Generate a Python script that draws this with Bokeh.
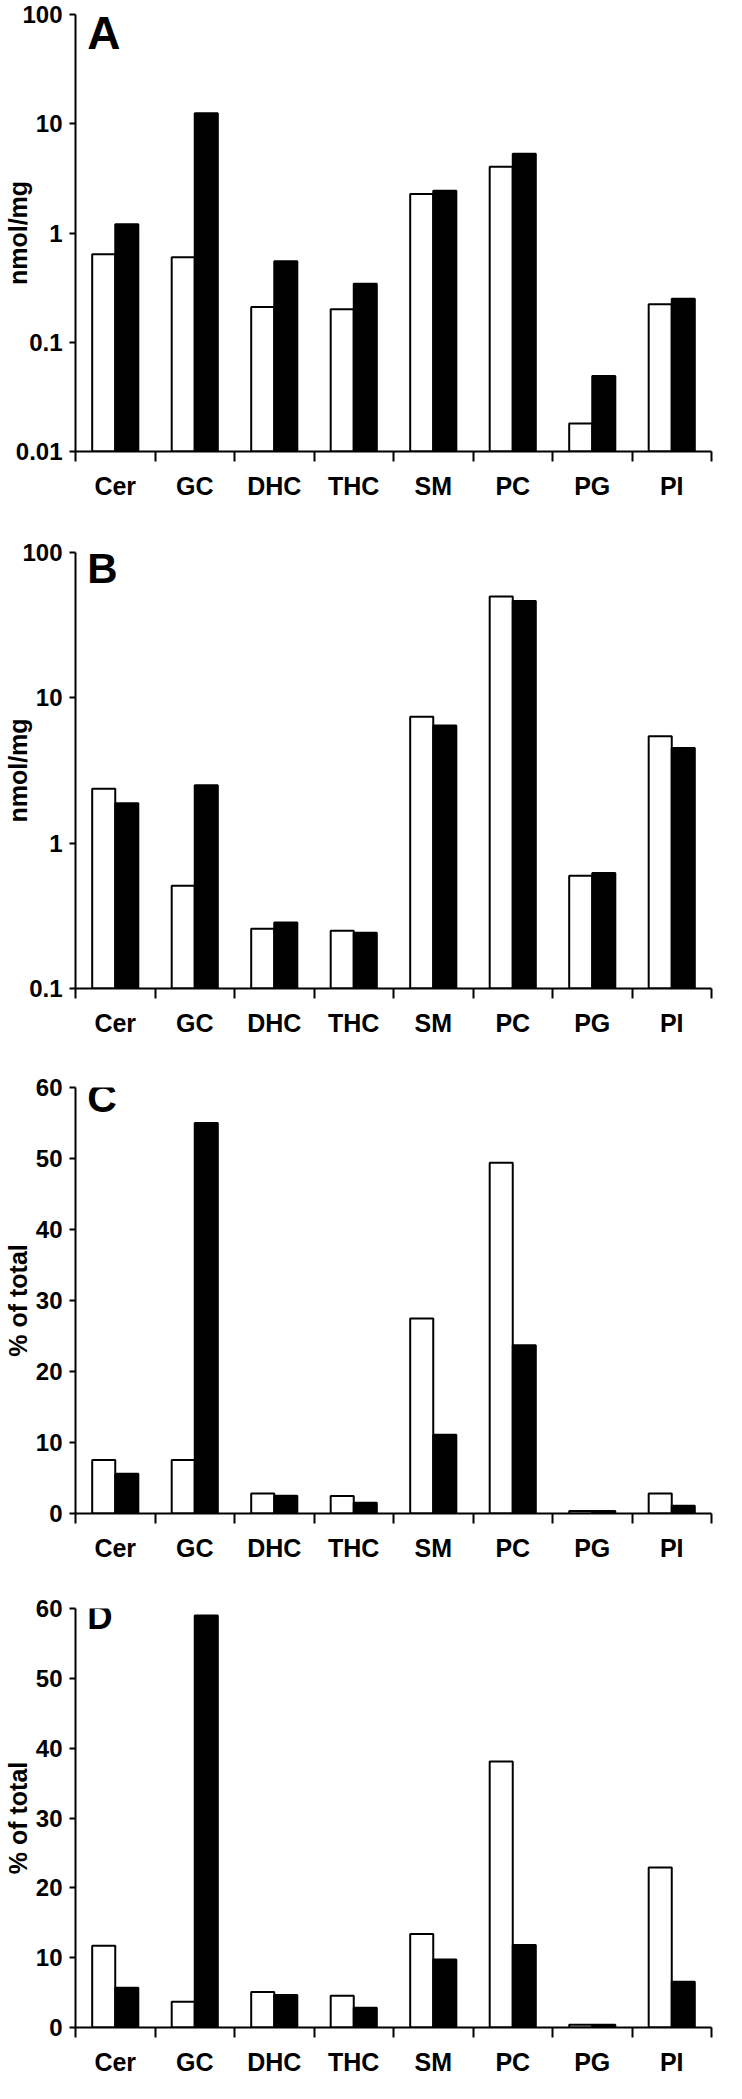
from bokeh.plotting import figure
from bokeh.models import Range1d, FixedTicker, Label, ColumnDataSource
from bokeh.transform import dodge
from bokeh.layouts import column
from bokeh.embed import file_html
from bokeh.resources import INLINE

categories = ["Cer", "GC", "DHC", "THC", "SM", "PC", "PG", "PI"]

a_white = [0.64, 0.60, 0.21, 0.20, 2.27, 4.04, 0.018, 0.223]
a_black = [1.2, 12.5, 0.55, 0.344, 2.43, 5.3, 0.049, 0.25]
b_white = [2.37, 0.51, 0.258, 0.25, 7.4, 49.9, 0.596, 5.45]
b_black = [1.88, 2.5, 0.285, 0.242, 6.44, 46.3, 0.624, 4.51]
c_white = [7.55, 7.55, 2.83, 2.45, 27.45, 49.4, 0.35, 2.83]
c_black = [5.6, 55.0, 2.5, 1.5, 11.1, 23.7, 0.35, 1.1]
d_white = [11.7, 3.7, 5.07, 4.54, 13.4, 38.1, 0.4, 22.9]
d_black = [5.7, 59.0, 4.64, 2.82, 9.75, 11.8, 0.4, 6.55]

log_ticks_a = [0.01, 0.1, 1, 10, 100]
log_ticks_b = [0.1, 1, 10, 100]
lin_ticks = [0, 10, 20, 30, 40, 50, 60]

FONT = "Liberation Sans"


def make_panel(white, black, letter, ylabel, log, yticks, ymin, ymax,
               height, top, bottom, frame_w, letter_size, letter_y,
               label_standoff):
    n = len(categories)
    pos = [i + 0.5 for i in range(n)]
    src = ColumnDataSource(dict(x=pos, white=white, black=black))
    p = figure(width=726, height=height,
               x_range=Range1d(0, n), y_range=Range1d(ymin, ymax),
               y_axis_type="log" if log else "linear",
               output_backend="svg", toolbar_location=None,
               min_border_left=68, min_border_right=726 - 68 - frame_w,
               min_border_top=top, min_border_bottom=bottom)
    p.outline_line_color = None
    p.grid.visible = False
    p.background_fill_color = "white"
    p.border_fill_color = "white"

    base = ymin
    p.vbar(x=dodge("x", -0.145, range=p.x_range), width=0.29, top="white",
           bottom=base, source=src, fill_color="white", line_color="black",
           line_width=2)
    p.vbar(x=dodge("x", 0.145, range=p.x_range), width=0.29, top="black",
           bottom=base, source=src, fill_color="black", line_color="black",
           line_width=2)

    # x axis
    xa = p.xaxis[0]
    xa.ticker = FixedTicker(ticks=pos, minor_ticks=list(range(n + 1)))
    xa.major_label_overrides = {pos[i]: categories[i] for i in range(n)}
    xa.major_tick_line_color = None
    xa.major_tick_out = 10
    xa.major_tick_in = 0
    xa.minor_tick_out = 10
    xa.minor_tick_in = 0
    xa.minor_tick_line_width = 2
    xa.minor_tick_line_color = "black"
    xa.axis_line_width = 2
    xa.axis_line_color = "black"
    xa.major_label_standoff = 10
    xa.major_label_text_font = FONT
    xa.major_label_text_font_style = "bold"
    xa.major_label_text_font_size = "25px"
    xa.major_label_text_color = "black"

    # y axis
    ya = p.yaxis[0]
    ya.ticker = FixedTicker(ticks=yticks, minor_ticks=[])
    ya.major_label_overrides = {t: str(t) for t in yticks}
    ya.major_tick_out = 6
    ya.major_tick_in = 0
    ya.major_tick_line_width = 2
    ya.major_tick_line_color = "black"
    ya.minor_tick_line_color = None
    ya.axis_line_width = 2
    ya.axis_line_color = "black"
    ya.major_label_standoff = 7
    ya.major_label_text_font = FONT
    ya.major_label_text_font_style = "bold"
    ya.major_label_text_font_size = "24px"
    ya.major_label_text_color = "black"
    ya.axis_label = ylabel
    ya.axis_label_text_font = FONT
    ya.axis_label_text_font_style = "bold"
    ya.axis_label_text_font_size = "25px"
    ya.axis_label_text_color = "black"
    ya.axis_label_standoff = label_standoff

    px_per_unit = frame_w / n
    p.add_layout(Label(x=12 / px_per_unit, y=letter_y, text=letter,
                       text_font=FONT, text_font_style="bold",
                       text_font_size=letter_size, text_color="black",
                       text_align="left", text_baseline="middle"))
    return p


pA = make_panel(a_white, a_black, "A", "nmol/mg", True, log_ticks_a, 0.01, 100,
                height=509, top=14, bottom=58, frame_w=656,
                letter_size="46px", letter_y=68.0, label_standoff=-19)
pB = make_panel(b_white, b_black, "B", "nmol/mg", True, log_ticks_b, 0.1, 100,
                height=537, top=43, bottom=58, frame_w=651,
                letter_size="42px", letter_y=77.4, label_standoff=-13)
pC = make_panel(c_white, c_black, "C", "% of total", False, lin_ticks, 0, 60,
                height=525, top=41, bottom=58, frame_w=643,
                letter_size="41px", letter_y=58.5, label_standoff=1)
pD = make_panel(d_white, d_black, "D", "% of total", False, lin_ticks, 0, 60,
                height=512, top=37, bottom=56, frame_w=655,
                letter_size="35px", letter_y=58.85, label_standoff=1)

layout = column(pA, pB, pC, pD, spacing=0)
open("out.html", "w").write(file_html(layout, INLINE))
